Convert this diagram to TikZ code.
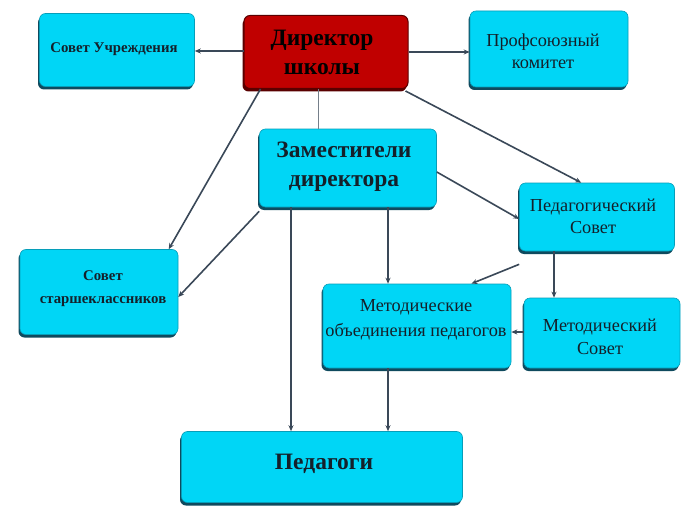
\documentclass[tikz,border=0pt]{standalone}
\usepackage{fontspec}
\setmainfont{Liberation Serif}
\usetikzlibrary{arrows.meta,shadows,calc}
\definecolor{boxcyan}{HTML}{00D6F6}
\definecolor{boxedge}{HTML}{0F4A5E}
\definecolor{dirred}{HTML}{C00000}
\definecolor{diredge}{HTML}{5A0000}
\definecolor{conn}{HTML}{3A4858}
\definecolor{txtdark}{HTML}{14202A}
\tikzset{
  box/.style={rectangle, rounded corners=6pt, fill=boxcyan, draw=boxedge!40!boxcyan, line width=0.6pt,
    drop shadow={shadow xshift=-1.5pt, shadow yshift=-3pt, fill=boxedge, opacity=1},
    inner sep=0pt, anchor=center},
  dirbox/.style={rectangle, rounded corners=6pt, fill=dirred, draw=diredge, line width=1pt,
    drop shadow={shadow xshift=-1.5pt, shadow yshift=-3pt, fill=diredge, opacity=1},
    inner sep=0pt, anchor=center},
  txt/.style={align=center, text=txtdark, inner sep=0pt},
  big/.style={txt, font=\fontsize{23.5}{29}\selectfont\bfseries},
  smallb/.style={txt, font=\fontsize{14.8}{23}\selectfont\bfseries},
  reg/.style={txt, font=\fontsize{18.3}{22.5}\selectfont},
  arr/.style={draw=conn, line width=1.6pt, -{Stealth[length=6pt,width=5pt]}},
  ln/.style={draw=conn!70, line width=1pt}
}
\begin{document}
\begin{tikzpicture}[x=1pt,y=-1pt]
\useasboundingbox (0,0) rectangle (699,519);
\fill[white] (0,0) rectangle (699,519);
% boxes
\node[box, minimum width=155pt, minimum height=73pt] (su) at (117,50) {};
\node[dirbox, minimum width=164pt, minimum height=73pt] (dir) at (326,52) {};
\node[box, minimum width=158pt, minimum height=76pt] (pk) at (549,49) {};
\node[box, minimum width=177pt, minimum height=78pt] (zam) at (348,168) {};
\node[box, minimum width=155pt, minimum height=68pt] (ps) at (597,217) {};
\node[box, minimum width=158pt, minimum height=85pt] (ss) at (99,292) {};
\node[box, minimum width=188pt, minimum height=84pt] (mo) at (417,326) {};
\node[box, minimum width=156pt, minimum height=70pt] (ms) at (602,333) {};
\node[box, minimum width=281pt, minimum height=71pt] (ped) at (322,467) {};
% texts
\node[smallb] (su-t) at (114,49) {Совет Учреждения};
\node[big, text=black] (dir-t) at (322,52) {Директор\\школы};
\node[reg] (pk-t) at (543,51) {Профсоюзный\\комитет};
\node[big] (zam-t) at (344,167) {Заместители\\директора};
\node[reg, font=\fontsize{18.3}{22}\selectfont] (ps-t) at (593,216) {Педагогический\\Совет};
\node[smallb] (ss-t) at (103,289) {Совет\\старшеклассников};
\node[reg, font=\fontsize{18.3}{25}\selectfont] (mo-t) at (416,320) {Методические\\объединения педагогов};
\node[reg] (ms-t) at (600,337) {Методический\\Совет};
\node[big] (ped-t) at (324,464) {Педагоги};
% connectors
\draw[arr] (dir.west |- su.east) ++(0,1) coordinate (c1) (c1) -- (su.east |- c1);
\draw[arr] (dir.east) -- (pk.west |- dir.east);
\draw[ln] (zam.north -| 318,0) coordinate (c2) (dir.south -| c2) -- (c2);
\draw[arr] ([xshift=17pt]dir.south west) -- ([xshift=149pt]ss.north west);
\draw[arr] ([xshift=-3pt,yshift=-2pt]dir.south east) -- ([xshift=62pt]ps.north west);
\draw[arr] ([yshift=-4pt]zam.east) -- ([yshift=-2pt]ps.west);
\draw[arr] ([yshift=-4pt]zam.south west) -- ([yshift=-5pt]ss.east);
\draw[arr] (zam.south -| 291,0) coordinate (c3) (zam.south -| c3) -- (ped.north -| c3);
\draw[arr] (zam.south -| mo.north) ++(-29,0) coordinate (c4) (c4) -- (mo.north -| c4);
\draw[arr] ([yshift=-13pt]ps.south west) -- ([xshift=-40pt]mo.north east);
\draw[arr] (ps.south -| 554,0) coordinate (c5) (ps.south -| c5) -- (ms.north -| c5);
\draw[arr] (ms.west |- 0,332) coordinate (c6) (c6) -- (mo.east |- c6);
\draw[arr] (mo.south -| c4) -- (ped.north -| c4);
\end{tikzpicture}
\end{document}
